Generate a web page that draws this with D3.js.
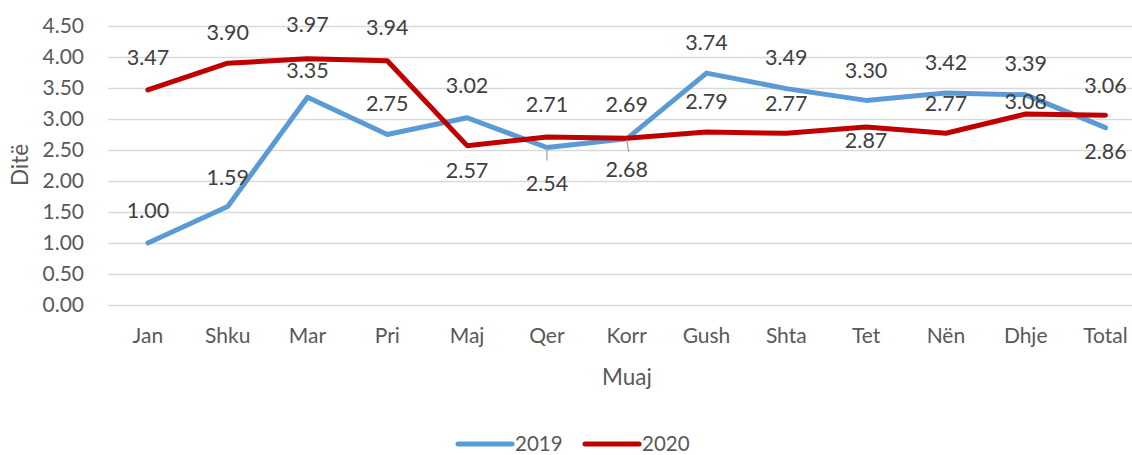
<!DOCTYPE html>
<html>
<head>
<meta charset="utf-8">
<script src="https://cdn.jsdelivr.net/npm/d3@7"></script>
<style>
  body { margin: 0; background: #fff; }
  text { font-family: Lato, "Open Sans", "Noto Sans", sans-serif; }
</style>
</head>
<body>
<div class="vis"></div>
<script>
// months on the x axis
var months = ["Jan", "Shku", "Mar", "Pri", "Maj", "Qer", "Korr", "Gush", "Shta", "Tet", "Nën", "Dhje", "Total"];

// average days per month
var values2019 = [1.00, 1.59, 3.35, 2.75, 3.02, 2.54, 2.68, 3.74, 3.49, 3.30, 3.42, 3.39, 2.86];
var values2020 = [3.47, 3.90, 3.97, 3.94, 2.57, 2.71, 2.69, 2.79, 2.77, 2.87, 2.77, 3.08, 3.06];

var yTicks = [0, 0.5, 1, 1.5, 2, 2.5, 3, 3.5, 4, 4.5];

// label offsets (px from the point) as excel placed them
var labelDy2019 = [-33, -29, -27, -31, -32, 36, 31, -31, -31, -30, -30, -31, 24];
var labelDy2020 = [-32, -31, -34, -33, 25, -33, -34, -31, -30, 13, -30, -13, -30];
// labels that got a leader line
var leader2019 = [5, 6];

var width = 1132, height = 455;

var svg = d3.select(".vis").append("svg")
	.attr("width", width)
	.attr("height", height);

var x = d3.scaleBand()
	.domain(months)
	.range([108, 108 + 13 * 79.8]);

var y = d3.scaleLinear()
	.domain([0, 4.5])
	.range([305, 26]);

// gridlines
svg.append("g")
	.selectAll("line")
	.data(yTicks)
	.enter().append("line")
	.attr("x1", 108)
	.attr("x2", width)
	.attr("y1", function(d) { return Math.round(y(d)) + 0.5; })
	.attr("y2", function(d) { return Math.round(y(d)) + 0.5; })
	.style("stroke", "#d9d9d9")
	.style("stroke-width", 1.3);

// y tick labels
svg.append("g")
	.selectAll("text")
	.data(yTicks)
	.enter().append("text")
	.attr("x", 84)
	.attr("y", function(d) { return y(d); })
	.attr("dy", "0.35em")
	.attr("text-anchor", "end")
	.style("font-size", "21px")
	.style("fill", "#595959")
	.text(function(d) { return d.toFixed(2); });

// x tick labels
svg.append("g")
	.selectAll("text")
	.data(months)
	.enter().append("text")
	.attr("x", function(d) { return x(d) + x.bandwidth() / 2; })
	.attr("y", 336)
	.attr("dy", "0.35em")
	.attr("text-anchor", "middle")
	.style("font-size", "21px")
	.style("fill", "#595959")
	.text(function(d) { return d; });

// axis titles
svg.append("text")
	.attr("transform", "translate(20,165) rotate(-90)")
	.attr("dy", "0.35em")
	.attr("text-anchor", "middle")
	.style("font-size", "22.5px")
	.style("fill", "#595959")
	.text("Ditë");

svg.append("text")
	.attr("x", 627)
	.attr("y", 377)
	.attr("dy", "0.35em")
	.attr("text-anchor", "middle")
	.style("font-size", "22.5px")
	.style("fill", "#595959")
	.text("Muaj");

var line = d3.line()
	.x(function(d, i) { return x(months[i]) + x.bandwidth() / 2; })
	.y(function(d) { return y(d); });

var series = [
	{ name: "2019", values: values2019, colour: "#5b9bd5", dy: labelDy2019 },
	{ name: "2020", values: values2020, colour: "#c00000", dy: labelDy2020 }
];

series.forEach(function(s) {
	svg.append("path")
		.datum(s.values)
		.attr("d", line)
		.style("fill", "none")
		.style("stroke", s.colour)
		.style("stroke-width", 5)
		.style("stroke-linejoin", "round")
		.style("stroke-linecap", "round");
});

// leader lines for the crowded labels
svg.append("g")
	.selectAll("line")
	.data(leader2019)
	.enter().append("line")
	.attr("x1", function(i) { return x(months[i]) + x.bandwidth() / 2; })
	.attr("x2", function(i) { return x(months[i]) + x.bandwidth() / 2 + (i === 6 ? 2 : 0); })
	.attr("y1", function(i) { return y(values2019[i]) + 1; })
	.attr("y2", function(i) { return y(values2019[i]) + 13; })
	.style("stroke", "#a6a6a6")
	.style("stroke-width", 1.3);

// data labels
series.forEach(function(s) {
	svg.append("g")
		.selectAll("text")
		.data(s.values)
		.enter().append("text")
		.attr("x", function(d, i) { return x(months[i]) + x.bandwidth() / 2; })
		.attr("y", function(d, i) { return y(d) + s.dy[i]; })
		.attr("dy", "0.35em")
		.attr("text-anchor", "middle")
		.style("font-size", "21.5px")
		.style("fill", "#404040")
		.text(function(d) { return d.toFixed(2); });
});

// legend
var legend = svg.append("g");
var legendX = [458, 585];
series.forEach(function(s, i) {
	legend.append("line")
		.attr("x1", legendX[i])
		.attr("x2", legendX[i] + 54)
		.attr("y1", 444)
		.attr("y2", 444)
		.style("stroke", s.colour)
		.style("stroke-width", 5)
		.style("stroke-linecap", "round");
	legend.append("text")
		.attr("x", legendX[i] + 57)
		.attr("y", 444)
		.attr("dy", "0.35em")
		.style("font-size", "20.5px")
		.style("fill", "#595959")
		.text(s.name);
});
</script>
</body>
</html>
